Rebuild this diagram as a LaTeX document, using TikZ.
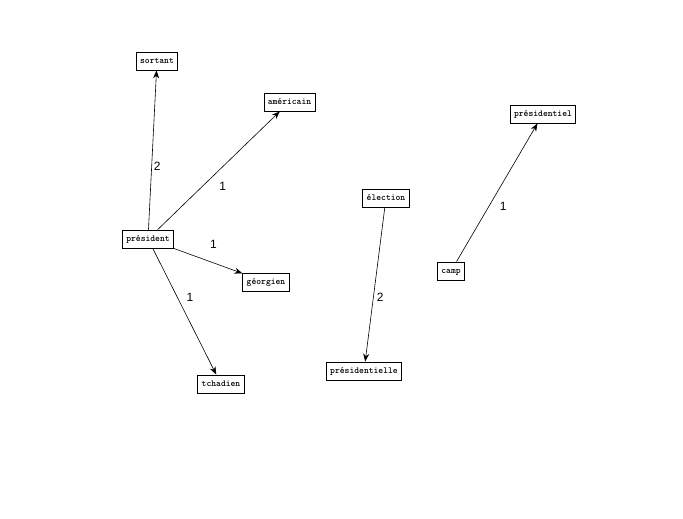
\documentclass[tikz,border=0pt]{standalone}
\usepackage{fontspec}
\newfontfamily\labfont{Liberation Sans}
\usetikzlibrary{arrows.meta}
\begin{document}
\begin{tikzpicture}[x=1pt,y=-1pt,
  word/.style={draw, line width=0.8pt, fill=white, font=\ttfamily\bfseries\fontsize{9.2}{10}\selectfont,
    inner xsep=3.8pt, inner ysep=0pt, minimum height=18pt, text height=6pt, text depth=1.5pt},
  link/.style={line width=0.6pt, -{Stealth[length=8pt,width=6pt]}},
  weight/.style={font=\labfont\fontsize{12}{14}\selectfont, inner sep=0pt}]
\useasboundingbox[fill=white] (0,0) rectangle (683,519);
\node[word] (sortant) at (157,61) {sortant};
\node[word] (americain) at (289.5,102) {américain};
\node[word] (president) at (148,239) {président};
\node[word] (georgien) at (266,282) {géorgien};
\node[word] (tchadien) at (221,384) {tchadien};
\node[word] (election) at (386,198) {élection};
\node[word] (presidentielle) at (364,371) {présidentielle};
\node[word] (camp) at (451,271) {camp};
\node[word] (presidentiel) at (543,114) {présidentiel};
\draw[link] (president) -- node[weight, pos=0.4, xshift=5.5pt] {2} (sortant);
\draw[link] (president) -- node[weight, pos=0.45, xshift=10pt, yshift=-10pt] {1} (americain);
\draw[link] (president) -- node[weight, pos=0.49, xshift=6pt, yshift=16pt] {1} (georgien);
\draw[link] (president) -- node[weight, pos=0.43, xshift=10pt, yshift=5pt] {1} (tchadien);
\draw[link] (election) -- node[weight, pos=0.585, xshift=7pt] {2} (presidentielle);
\draw[link] (camp) -- node[weight, pos=0.44, xshift=11pt, yshift=-6pt] {1} (presidentiel);
\end{tikzpicture}
\end{document}
